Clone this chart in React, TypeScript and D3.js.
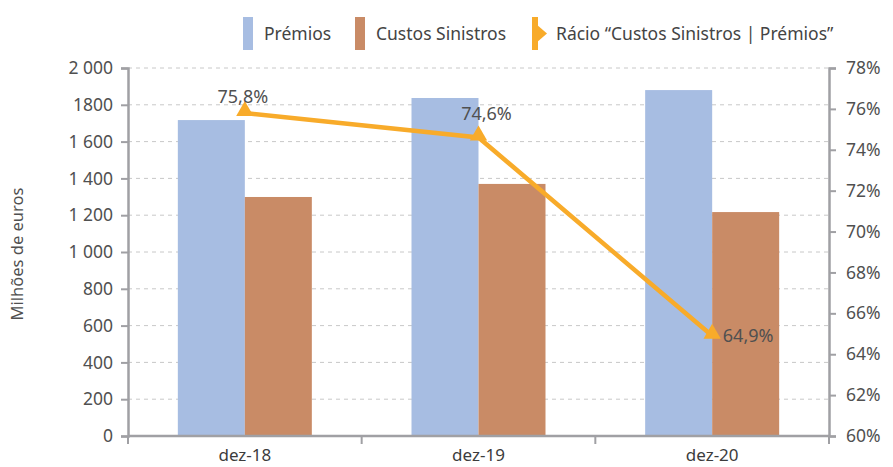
import React, { useRef, useEffect } from 'react';
import * as d3 from 'd3';

const categories = ['dez-18', 'dez-19', 'dez-20'];
const premios = [1717, 1837, 1880];
const custos = [1299, 1370, 1217];
const racio = [75.8, 74.6, 64.9];
const racioLabels = ['75,8%', '74,6%', '64,9%'];
const leftTicks = [0, 200, 400, 600, 800, 1000, 1200, 1400, 1600, 1800, 2000];
const leftTickLabels = ['0', '200', '400', '600', '800', '1 000', '1 200', '1 400', '1 600', '1800', '2 000'];
const rightTicks = [60, 62, 64, 66, 68, 70, 72, 74, 76, 78];

const BLUE = '#a7bde2';
const BROWN = '#c98b66';
const ORANGE = '#f8ab2a';
const TEXT = '#505050';
const FONT = '"Noto Sans", "Open Sans", sans-serif';

const App = () => {
    const ref = useRef<SVGSVGElement | null>(null);

    useEffect(() => {
        document.body.style.margin = '0';
        if (!ref.current) return;
        const svg = d3.select(ref.current);
        svg.selectAll('*').remove();

        const width = 893, height = 467;
        const margin = { top: 68, right: 64, bottom: 31, left: 128 };
        const x0 = margin.left, x1 = width - margin.right;
        const yTop = margin.top, yBot = height - margin.bottom;

        const x = d3.scaleBand().domain(categories).range([x0, x1]);
        const yL = d3.scaleLinear().domain([0, 2000]).range([yBot, yTop]);
        const yR = d3.scaleLinear().domain([60, 78]).range([yBot, yTop]);
        const barW = 67;

        // grid
        svg.append('g')
            .selectAll('line')
            .data(leftTicks.filter(d => d > 0))
            .join('line')
            .attr('x1', x0).attr('x2', x1)
            .attr('y1', d => yL(d)).attr('y2', d => yL(d))
            .attr('stroke', '#c8c8c8')
            .attr('stroke-dasharray', '4,4')
            .attr('stroke-width', 1);

        // bars
        const groups = svg.append('g').selectAll('g')
            .data(categories)
            .join('g');
        groups.append('rect')
            .attr('x', d => x(d)! + x.bandwidth() / 2 - barW)
            .attr('y', (d, i) => yL(premios[i]))
            .attr('width', barW)
            .attr('height', (d, i) => yBot - yL(premios[i]))
            .attr('fill', BLUE);
        groups.append('rect')
            .attr('x', d => x(d)! + x.bandwidth() / 2)
            .attr('y', (d, i) => yL(custos[i]))
            .attr('width', barW)
            .attr('height', (d, i) => yBot - yL(custos[i]))
            .attr('fill', BROWN);

        // axes
        const axisColor = '#a0a0a4';
        const left = svg.append('g').attr('transform', `translate(${x0},0)`)
            .call(d3.axisLeft(yL).tickValues(leftTicks).tickSize(7).tickFormat((d, i) => leftTickLabels[i]));
        const right = svg.append('g').attr('transform', `translate(${x1},0)`)
            .call(d3.axisRight(yR).tickValues(rightTicks).tickSize(7).tickFormat(d => `${d}%`));
        [left, right].forEach(a => {
            a.select('.domain').attr('stroke', axisColor).attr('stroke-width', 2.5);
            a.selectAll('.tick line').attr('stroke', axisColor).attr('stroke-width', 2);
            a.selectAll('.tick text').attr('fill', TEXT).style('font-size', '17.5px').style('font-family', FONT);
        });
        left.selectAll('.tick text').attr('x', -15);
        right.selectAll('.tick text').attr('x', 17);

        // x axis
        svg.append('line')
            .attr('x1', x0).attr('x2', x1).attr('y1', yBot).attr('y2', yBot)
            .attr('stroke', axisColor).attr('stroke-width', 2.5);
        const bounds = [...categories.map(c => x(c)!), x1];
        svg.append('g').selectAll('line')
            .data(bounds)
            .join('line')
            .attr('x1', d => d).attr('x2', d => d)
            .attr('y1', yBot).attr('y2', yBot + 8)
            .attr('stroke', axisColor).attr('stroke-width', 2);
        svg.append('g').selectAll('text')
            .data(categories)
            .join('text')
            .attr('x', d => x(d)! + x.bandwidth() / 2)
            .attr('y', yBot + 25)
            .attr('text-anchor', 'middle')
            .attr('fill', '#3c3c3c')
            .style('font-size', '17px')
            .style('font-family', FONT)
            .text(d => d);

        // y label
        svg.append('text')
            .attr('transform', `translate(23,${(yTop + yBot) / 2 + 2}) rotate(-90)`)
            .attr('text-anchor', 'middle')
            .attr('fill', TEXT)
            .style('font-size', '16.5px')
            .style('font-family', FONT)
            .text('Milhões de euros');

        // line
        const cx = (i: number) => x(categories[i])! + x.bandwidth() / 2;
        const line = d3.line<number>().x((d, i) => cx(i)).y(d => yR(d));
        svg.append('path')
            .datum(racio)
            .attr('d', line)
            .attr('fill', 'none')
            .attr('stroke', ORANGE)
            .attr('stroke-width', 4.5);
        const tri = d3.symbol().type(d3.symbolTriangle).size(130);
        svg.append('g').selectAll('path')
            .data(racio)
            .join('path')
            .attr('transform', (d, i) => `translate(${cx(i)},${yR(d) - 2})`)
            .attr('d', tri)
            .attr('fill', ORANGE);

        const labelOff = [[-2, -10], [8, -18], [36, 6]];
        svg.append('g').selectAll('text')
            .data(racio)
            .join('text')
            .attr('x', (d, i) => cx(i) + labelOff[i][0])
            .attr('y', (d, i) => yR(d) + labelOff[i][1])
            .attr('text-anchor', 'middle')
            .attr('fill', TEXT)
            .style('font-size', '18px')
            .style('font-family', FONT)
            .text((d, i) => racioLabels[i]);

        // legend
        const leg = svg.append('g').style('font-family', FONT).style('font-size', '17.5px');
        const items = [
            { label: 'Prémios', color: BLUE, sx: 243, tx: 264 },
            { label: 'Custos Sinistros', color: BROWN, sx: 355, tx: 376 },
        ];
        items.forEach(it => {
            leg.append('rect').attr('x', it.sx).attr('y', 17).attr('width', 10).attr('height', 33).attr('fill', it.color);
            leg.append('text').attr('x', it.tx).attr('y', 40).attr('fill', '#444').text(it.label);
        });
        leg.append('rect').attr('x', 532).attr('y', 17).attr('width', 6).attr('height', 33).attr('fill', ORANGE);
        leg.append('path').attr('d', 'M536,24 L547,33.5 L536,43 Z').attr('fill', ORANGE);
        leg.append('text').attr('x', 556).attr('y', 40).attr('fill', '#444').text('Rácio “Custos Sinistros | Prémios”');
    }, []);

    return <svg ref={ref} width={893} height={467} style={{ display: 'block' }} />;
};

export default App;
